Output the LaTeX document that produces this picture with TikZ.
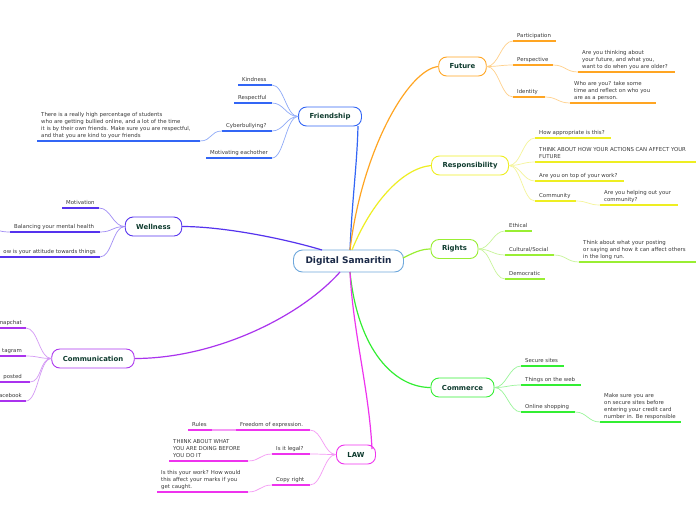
\documentclass[tikz,border=0pt]{standalone}
\usepackage{fontspec}
\setmainfont{DejaVu Sans}
\usetikzlibrary{calc}
\definecolor{txt}{HTML}{3A3A3A}
\definecolor{ttl}{HTML}{0E3B2E}
\definecolor{ctr}{HTML}{1B2A48}
\definecolor{cbd}{HTML}{6FA8DC}
\definecolor{cFr}{HTML}{3366F5}\definecolor{lFr}{HTML}{8FAAF8}
\definecolor{cWe}{HTML}{5533EE}\definecolor{lWe}{HTML}{A08CF5}
\definecolor{cCm}{HTML}{AA33EE}\definecolor{lCm}{HTML}{D49AF5}
\definecolor{cLa}{HTML}{EE33EE}\definecolor{lLa}{HTML}{F59AF5}
\definecolor{cCo}{HTML}{33EE33}\definecolor{lCo}{HTML}{9AF59A}
\definecolor{cRi}{HTML}{99EE33}\definecolor{lRi}{HTML}{C8F59A}
\definecolor{cRe}{HTML}{EEEE22}\definecolor{lRe}{HTML}{F5F59A}
\definecolor{cFu}{HTML}{FFA522}\definecolor{lFu}{HTML}{FFD08A}
\tikzset{
  topic/.style={draw=#1, line width=0.9pt, rounded corners=8pt, fill=white,
    minimum height=19pt, inner xsep=11pt, font=\fontsize{6.9}{8}\selectfont\bfseries, text=ttl},
  lbl/.style={inner xsep=4pt, inner ysep=2.5pt, text depth=1.3pt,
    font=\fontsize{5.4}{6.7}\selectfont, text=txt, align=left},
  ul/.style={draw=#1, line width=1.6pt},
  sub/.style={draw=#1, line width=0.7pt},
  mainln/.style={draw=#1, line width=1.2pt},
}
\newcommand\leaf[6]{%
  \coordinate (#1a) at (#3,#5);
  \coordinate (#1b) at (#4,#5);
  \draw[ul=#2] (#1a) -- (#1b);
  \node[lbl, anchor=south west] (#1) at (#1a) {#6};}
\newcommand\leafR[6]{%
  \coordinate (#1a) at (#3,#5);
  \coordinate (#1b) at (#4,#5);
  \draw[ul=#2] (#1a) -- (#1b);
  \node[lbl, anchor=south east, align=right] (#1) at (#1b) {#6};}
\newcommand\connL[3]{\draw[sub=#1] (#2) .. controls +(-12,0) and +(12,0) .. (#3);}
\newcommand\connR[3]{\draw[sub=#1] (#2) .. controls +(12,0) and +(-12,0) .. (#3);}
\begin{document}
\begin{tikzpicture}[x=1pt,y=-1pt]
\path[use as bounding box, fill=white] (0,0) rectangle (696,520);

% ---------- topic nodes
\node[draw=cbd, line width=0.9pt, rounded corners=9pt, fill=white, minimum height=22pt,
  inner xsep=12pt, font=\fontsize{9}{11}\selectfont\bfseries, text=ctr] (ds) at (348.5,261) {Digital Samaritin};
\node[topic=cFr] (fr) at (330,116.5) {Friendship};
\node[topic=cWe] (we) at (153.5,226.5) {Wellness};
\node[topic=cCm] (cm) at (93,358.5) {Communication};
\node[topic=cLa] (la) at (356,454.5) {LAW};
\node[topic=cFu] (fu) at (462.5,66.5) {Future};
\node[topic=cRe] (re) at (470,165.5) {Responsibility};
\node[topic=cRi] (ri) at (454.5,249) {Rights};
\node[topic=cCo] (co) at (462.5,387.5) {Commerce};

\coordinate (ct) at (350,250);
\coordinate (ct2) at (352,250);
\coordinate (ctw) at (322,250);
\coordinate (cb) at (350,272);
\coordinate (cbw) at (340,272);
\coordinate (cr) at (403,258);
\coordinate (frin) at (358,126);
\coordinate (lain) at (372,449);

% ---------- main branches
\draw[mainln=cFr] (ct) .. controls +(2,-50) and +(-1,40) .. (frin);
\draw[mainln=cFu] (ct) .. controls +(12,-100) and +(-30,3) .. (fu.west);
\draw[mainln=cRe] (ct2) .. controls +(18,-45) and +(-30,3) .. (re.west);
\draw[mainln=cRi] (cr) .. controls +(10,-5) and +(-10,0) .. (ri.west);
\draw[mainln=cCo] (cb) .. controls +(8,80) and +(-35,0) .. (co.west);
\draw[mainln=cLa] (cb) .. controls +(3,60) and +(-3,-60) .. (lain);
\draw[mainln=cCm] (cbw) .. controls +(-40,45) and +(80,0) .. (cm.east);
\draw[mainln=cWe] (ctw) .. controls +(-40,-12) and +(40,0) .. (we.east);

% ---------- Friendship
\leaf{ki}{cFr}{238}{272}{85}{Kindness}
\leaf{rs}{cFr}{234}{272}{103}{Respectful}
\leaf{cy}{cFr}{222}{272}{131}{Cyberbullying?}
\leaf{cyc}{cFr}{37}{200}{141}{There is a really high percentage of students\\who are getting bullied online, and a lot of the time\\it is by their own friends. Make sure you are respectful,\\and that you are kind to your friends}
\leaf{mo}{cFr}{206}{272}{158}{Motivating eachother}
\connL{lFr}{fr.west}{kib}
\connL{lFr}{fr.west}{rsb}
\connL{lFr}{fr.west}{cyb}
\connL{lFr}{fr.west}{mob}
\connL{lFr}{cya}{cycb}

% ---------- Wellness
\leaf{mv}{cWe}{62}{99}{208}{Motivation}
\leaf{bm}{cWe}{10}{100}{232}{Balancing your mental health}
\leafR{at}{cWe}{-5}{100}{257}{ow is your attitude towards things}
\coordinate (bmx) at (-14,229);
\connL{lWe}{we.west}{mvb}
\connL{lWe}{we.west}{bmb}
\connL{lWe}{we.west}{atb}
\connL{lWe}{bma}{bmx}

% ---------- Communication
\leafR{sn}{cCm}{-5}{26}{328}{napchat}
\leafR{ig}{cCm}{-5}{26}{356}{tagram}
\coordinate (poa) at (-5,382);
\coordinate (pob) at (30,382);
\draw[ul=cCm] (poa) -- (pob);
\node[lbl, anchor=south east] (po) at (26,382) {posted};
\leafR{fb}{cCm}{-5}{26}{401}{acebook}
\connL{lCm}{cm.west}{snb}
\connL{lCm}{cm.west}{igb}
\connL{lCm}{cm.west}{pob}
\connL{lCm}{cm.west}{fbb}

% ---------- LAW
\leaf{fe}{cLa}{236}{310}{430}{Freedom of expression.}
\leaf{ru}{cLa}{188}{212}{430}{Rules}
\leaf{il}{cLa}{272}{310}{454}{Is it legal?}
\leaf{ilc}{cLa}{169}{248}{461}{THIINK ABOUT WHAT\\YOU ARE DOING BEFORE\\YOU DO IT}
\leaf{cr}{cLa}{272}{310}{485}{Copy right}
\leaf{crc}{cLa}{157}{248}{492}{Is this your work? How would\\this affect your marks if you\\get caught.}
\connL{lLa}{la.west}{feb}
\connL{lLa}{la.west}{ilb}
\connL{lLa}{la.west}{crb}
\draw[sub=lLa, line width=1.2pt] (fea) -- (rub);
\connL{lLa}{ila}{ilcb}
\connL{lLa}{cra}{crcb}

% ---------- Future
\leaf{pa}{cFu}{513}{556}{41}{Participation}
\leaf{pe}{cFu}{513}{553}{65}{Perspective}
\leaf{pec}{cFu}{578}{675}{72}{Are you thinking about\\your future, and what you,\\want to do when you are older?}
\leaf{id}{cFu}{513}{545}{97}{Identity}
\leaf{idc}{cFu}{570}{656}{103}{Who are you? take some\\time and reflect on who you\\are as a person.}
\connR{lFu}{fu.east}{paa}
\connR{lFu}{fu.east}{pea}
\connR{lFu}{fu.east}{ida}
\connR{lFu}{peb}{peca}
\connR{lFu}{idb}{idca}

% ---------- Responsibility
\leaf{ha}{cRe}{535}{611}{138}{How appropriate is this?}
\leaf{th}{cRe}{535}{696}{162}{THINK ABOUT HOW YOUR ACTIONS CAN AFFECT YOUR\\FUTURE}
\leaf{ot}{cRe}{535}{624}{181}{Are you on top of your work?}
\leaf{cn}{cRe}{535}{576}{201}{Community}
\leaf{cnc}{cRe}{600}{678}{205}{Are you helping out your\\community?}
\connR{lRe}{re.east}{haa}
\connR{lRe}{re.east}{tha}
\connR{lRe}{re.east}{ota}
\connR{lRe}{re.east}{cna}
\connR{lRe}{cnb}{cnca}

% ---------- Rights
\leaf{et}{cRi}{505}{532}{231}{Ethical}
\leaf{cs}{cRi}{505}{554}{255}{Cultural/Social}
\leaf{csc}{cRi}{579}{696}{262}{Think about what your posting\\or saying and how it can affect others\\in the long run.}
\leaf{de}{cRi}{505}{545}{279}{Democratic}
\connR{lRi}{ri.east}{eta}
\connR{lRi}{ri.east}{csa}
\connR{lRi}{ri.east}{dea}
\connR{lRi}{csb}{csca}

% ---------- Commerce
\leaf{ss}{cCo}{521}{564}{366}{Secure sites}
\leaf{tw}{cCo}{521}{581}{385}{Things on the web}
\leaf{os}{cCo}{521}{575}{412}{Online shopping}
\leaf{osc}{cCo}{600}{681}{422}{Make sure you are\\on secure sites before\\entering your credit card\\number in. Be responsible}
\connR{lCo}{co.east}{ssa}
\connR{lCo}{co.east}{twa}
\connR{lCo}{co.east}{osa}
\connR{lCo}{osb}{osca}
\end{tikzpicture}
\end{document}
